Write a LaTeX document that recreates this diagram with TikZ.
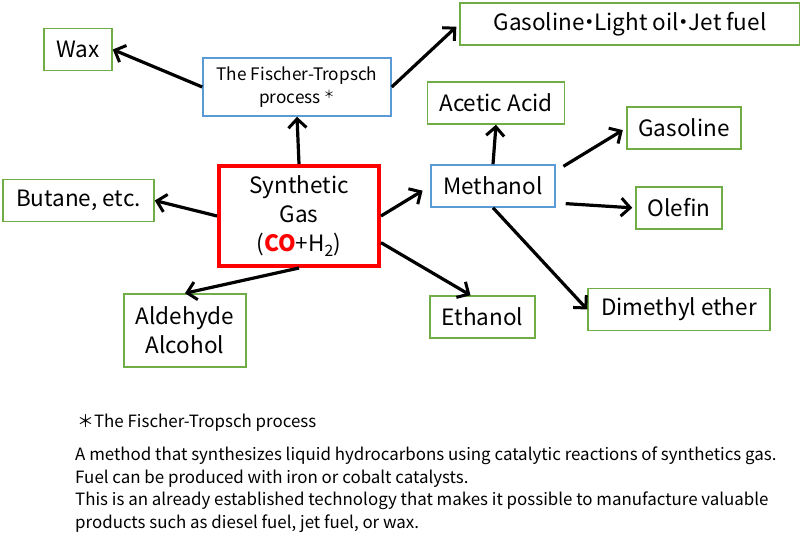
\documentclass[tikz,border=0pt]{standalone}
\usepackage{fontspec}
\setmainfont{Noto Sans CJK JP}
\usetikzlibrary{arrows.meta}
\definecolor{leafgreen}{RGB}{112,173,71}
\definecolor{skyblue}{RGB}{91,155,213}
\newcommand{\sepdot}{\kern-0.28em・\kern-0.28em}
\begin{document}
\begin{tikzpicture}[x=1pt,y=-1pt,
	prod/.style={draw=leafgreen, line width=1.5pt, minimum height=42pt, inner sep=0pt, align=center, font=\fontsize{22.5}{29}\selectfont},
	mid/.style={draw=skyblue, line width=1.5pt, minimum height=42pt, inner sep=0pt, align=center, font=\fontsize{22.5}{29}\selectfont},
	syn/.style={draw=red, line width=4pt, inner sep=0pt, align=center, font=\fontsize{22.5}{29}\selectfont},
	arr/.style={-{Straight Barb[length=9pt,width=18pt,line width=3pt]}, line width=3.2pt},
	note/.style={inner sep=0pt, align=left, font=\fontsize{16.9}{22.5}\selectfont}]

	\useasboundingbox (0,0) rectangle (800,549); %canvas

	%boxes
	\node[syn, minimum width=160pt, minimum height=100pt] (syn) at (299,216) {Synthetic\\Gas\\(\textcolor{red}{\textbf{CO}}+H\textsubscript{2})}; %synthetic gas
	\node[mid, minimum width=188pt, minimum height=58pt, font=\fontsize{17.2}{23}\selectfont] (ft) at (297,87) {The Fischer-Tropsch\\process\,\raisebox{0.3em}{\fontsize{11}{11}\selectfont ＊}}; %FT
	\node[mid, minimum width=124pt] (meoh) at (493,186) {Methanol}; %methanol

	\node[prod, minimum width=68pt] (wax) at (78,49.5) {Wax};
	\node[prod, minimum width=340pt] (fuel) at (630,24) {Gasoline\sepdot Light oil\sepdot Jet fuel};
	\node[prod, minimum width=137pt] (acetic) at (496,103) {Acetic Acid};
	\node[prod, minimum width=114pt] (gaso) at (684,128) {Gasoline};
	\node[prod, minimum width=151pt] (butane) at (78.5,200.5) {Butane, etc.};
	\node[prod, minimum width=86pt] (olefin) at (679,208) {Olefin};
	\node[prod, minimum width=105pt] (etoh) at (482.5,317) {Ethanol};
	\node[prod, minimum width=182pt] (dme) at (679,309.5) {Dimethyl ether};
	\node[prod, minimum width=122pt, minimum height=73pt] (ald) at (185,330.5) {Aldehyde\\Alcohol};

	%arrows
	\draw[arr] (ft.west) -- (wax.east); %to wax
	\draw[arr, shorten >=4pt] (ft.east) -- (fuel.west); %to fuels
	\draw[arr] (syn.north) -- (ft.south); %to FT
	\draw[arr] (syn.west) -- (butane.east); %to butane
	\draw[arr, shorten >=9pt] (syn.east) -- (meoh.west); %to methanol
	\draw[arr] (syn.south) -- (ald.north); %to aldehyde
	\draw[arr] (syn.-18) -- ([xshift=-12pt]etoh.north); %to ethanol
	\draw[arr] (meoh.north) -- (acetic.south); %to acetic acid
	\draw[arr, shorten <=9pt, shorten >=4pt] ([yshift=15pt]meoh.east) -- (gaso.west); %to gasoline
	\draw[arr, shorten <=10pt, shorten >=3pt] ([yshift=-17pt]meoh.east) -- (olefin.west); %to olefin
	\draw[arr] (meoh.south) -- (dme.west); %to DME

	%footnote
	\node[note, anchor=west] (fnhead) at (77,423) {＊The Fischer-Tropsch process};
	\node[note, anchor=north west] (fnbody) at (75,447) {A method that synthesizes liquid hydrocarbons using catalytic reactions of synthetics gas.\\Fuel can be produced with iron or cobalt catalysts.\\This is an already established technology that makes it possible to manufacture valuable\\products such as diesel fuel, jet fuel, or wax.};
\end{tikzpicture}
\end{document}
